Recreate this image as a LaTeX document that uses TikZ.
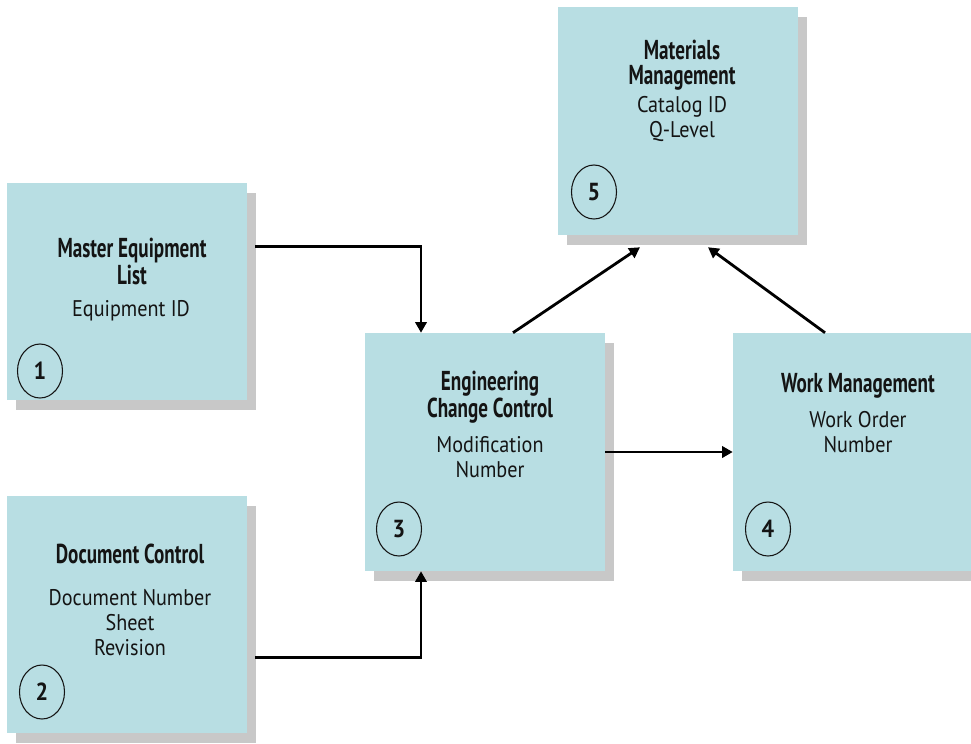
\documentclass[tikz,border=0pt]{standalone}
\usepackage{fontspec}
\usetikzlibrary{arrows.meta,shadows,shapes.geometric}
\newfontfamily\headfont{PT Sans}[FakeStretch=0.7]
\newfontfamily\bodyfont{PT Sans}[FakeStretch=0.89]
\newfontfamily\numfont{PT Sans}[FakeStretch=0.9]
\definecolor{boxfill}{RGB}{184,222,227}
\definecolor{boxshade}{RGB}{200,200,200}
\definecolor{ink}{RGB}{20,20,20}

\begin{document}
\begin{tikzpicture}[x=0.75pt,y=-0.75pt,
  box/.style={rectangle, fill=boxfill, draw=none, minimum width=180pt, inner sep=0pt,
    drop shadow={fill=boxshade, opacity=1, shadow xshift=6.75pt, shadow yshift=-7.5pt}},
  % multi-line nodes: the base anchor sits on the last line
  title/.style={anchor=base, align=center, text=ink, inner sep=0pt,
    font=\headfont\bfseries\fontsize{20.5pt}{18.5pt}\selectfont},
  fields/.style={anchor=base, align=center, text=ink, inner sep=0pt,
    font=\bodyfont\fontsize{17pt}{18.75pt}\selectfont},
  badge/.style={ellipse, draw=ink, line width=0.8pt, minimum width=33.75pt,
    minimum height=40.5pt, inner sep=0pt, text=ink,
    font=\numfont\bfseries\fontsize{18.5pt}{18.5pt}\selectfont},
  link/.style={draw=black, line width=2.1pt, -{Triangle[length=8pt,width=8.5pt]}}]

\useasboundingbox (0,0) rectangle (971,743);
\clip (0,0) rectangle (971,743);
\fill[white] (0,0) rectangle (971,743);

% system boxes
\node[box, minimum height=162.75pt] (b1) at (127,291) {};
\node[box, minimum height=177.75pt] (b2) at (127,614.5) {};
\node[box, minimum height=178.5pt] (b3) at (485,452) {};
\node[box, minimum height=178.5pt] (b4) at (853,452) {};
\node[box, minimum height=171pt] (b5) at (678,121) {};

% box 1: Master Equipment List
\node[title] (t1) at (132,284) {Master Equipment\\List};
\node[fields] (f1) at (131,316) {Equipment ID};
\node[badge] (n1) at (40,371) {1};

% box 2: Document Control
\node[title] (t2) at (130,563) {Document Control};
\node[fields] (f2) at (130,655) {Document Number\\Sheet\\Revision};
\node[badge] (n2) at (42,692) {2};

% box 3: Engineering Change Control
\node[title] (t3) at (490,417) {Engineering\\Change Control};
\node[fields] (f3) at (490,477) {Modification\\Number};
\node[badge] (n3) at (399,529) {3};

% box 4: Work Management
\node[title] (t4) at (858,392) {Work Management};
\node[fields] (f4) at (858,452) {Work Order\\Number};
\node[badge] (n4) at (768,529) {4};

% box 5: Materials Management
\node[title] (t5) at (682,84) {Materials\\Management};
\node[fields] (f5) at (682,137) {Catalog ID\\Q-Level};
\node[badge] (n5) at (594,192) {5};

% data flows
\draw[link] ([shift={(8,64)}]b1.north east) -| ([shift={(-64,0)}]b3.north);
\draw[link] ([shift={(8,162)}]b2.north east) -| ([shift={(-64,0)}]b3.south);
\draw[link] (b3.east) -- (b4.west);
\draw[link] ([shift={(28,0)}]b3.north) -- ([shift={(-38,12)}]b5.south);
\draw[link] ([shift={(-28,0)}]b4.north) -- ([shift={(30,12)}]b5.south);
\end{tikzpicture}
\end{document}
